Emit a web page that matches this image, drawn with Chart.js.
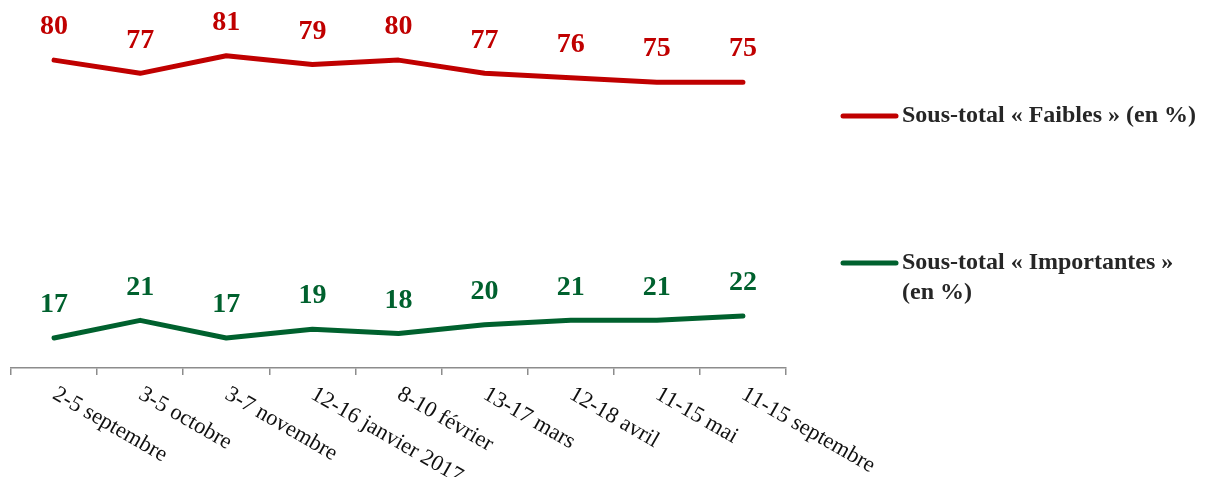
<!DOCTYPE html>
<html>
<head>
<meta charset="utf-8">
<script src="https://cdn.jsdelivr.net/npm/chart.js@4/dist/chart.umd.min.js"></script>
<style>
  html, body { margin: 0; padding: 0; background: #ffffff; }
  #wrap { width: 1208px; height: 477px; position: relative; }
</style>
</head>
<body>
<div id="wrap"><canvas id="c" width="1208" height="477"></canvas></div>
<script>
const categories = ["2-5 septembre", "3-5 octobre", "3-7 novembre", "12-16 janvier 2017", "8-10 février", "13-17 mars", "12-18 avril", "11-15 mai", "11-15 septembre"];
const faibles = [80, 77, 81, 79, 80, 77, 76, 75, 75];
const importantes = [17, 21, 17, 19, 18, 20, 21, 21, 22];
const seriesNames = [["Sous-total « Faibles » (en %)"], ["Sous-total « Importantes »", "(en %)"]];

const RED = "#C00000";
const GREEN = "#00612E";
const FONT = "'Palatino Linotype', 'Book Antiqua', Palatino, 'Liberation Serif', serif";

const labelPlugin = {
  id: "customDraw",
  afterDatasetsDraw(chart) {
    const ctx = chart.ctx;
    ctx.save();
    ctx.font = "bold 28px " + FONT;
    ctx.textAlign = "center";
    ctx.textBaseline = "middle";
    chart.data.datasets.forEach((ds, di) => {
      const meta = chart.getDatasetMeta(di);
      meta.data.forEach((pt, i) => {
        ctx.fillStyle = ds.borderColor;
        ctx.fillText(String(ds.data[i]), pt.x, pt.y - 33);
      });
    });
    ctx.restore();
  },
  afterDraw(chart) {
    const ctx = chart.ctx;
    const xs = chart.scales.x;
    // rotated tick labels
    ctx.save();
    ctx.font = "22.5px " + FONT;
    ctx.fillStyle = "#111111";
    ctx.textAlign = "left";
    ctx.textBaseline = "top";
    categories.forEach((lab, i) => {
      const x = xs.getPixelForValue(i);
      ctx.save();
      ctx.translate(x + 6, chart.chartArea.bottom + 15);
      ctx.rotate(30 * Math.PI / 180);
      ctx.fillText(lab, 0, 0);
      ctx.restore();
    });
    ctx.restore();
    // legend
    ctx.save();
    const legendY = [116, 263];
    const colors = [RED, GREEN];
    ctx.font = "bold 24px " + FONT;
    ctx.textAlign = "left";
    ctx.textBaseline = "middle";
    seriesNames.forEach((lines, k) => {
      ctx.strokeStyle = colors[k];
      ctx.lineWidth = 5;
      ctx.lineCap = "round";
      ctx.beginPath();
      ctx.moveTo(843, legendY[k]);
      ctx.lineTo(896, legendY[k]);
      ctx.stroke();
      ctx.fillStyle = "#262626";
      lines.forEach((t, j) => ctx.fillText(t, 902, legendY[k] + j * 30));
    });
    ctx.restore();
  }
};

new Chart(document.getElementById("c"), {
  type: "line",
  data: {
    labels: categories,
    datasets: [
      { label: seriesNames[0].join(" "), data: faibles, borderColor: RED, backgroundColor: RED, borderWidth: 5, pointRadius: 0, tension: 0, borderCapStyle: "round", borderJoinStyle: "round" },
      { label: seriesNames[1].join(" "), data: importantes, borderColor: GREEN, backgroundColor: GREEN, borderWidth: 5, pointRadius: 0, tension: 0, borderCapStyle: "round", borderJoinStyle: "round" }
    ]
  },
  options: {
    responsive: false,
    animation: false,
    layout: { padding: { left: 11, right: 422, top: 16, bottom: 0 } },
    plugins: { legend: { display: false }, tooltip: { enabled: false } },
    scales: {
      x: {
        offset: true,
        grid: { offset: true, drawOnChartArea: false, drawTicks: true, tickLength: 7, color: "#8c8c8c", lineWidth: 1.5 },
        border: { display: true, color: "#8c8c8c", width: 1.5 },
        ticks: { display: false },
        afterFit(scale) { scale.height = 109; }
      },
      y: { display: false, min: 10.2, max: 90 }
    }
  },
  plugins: [labelPlugin]
});
</script>
</body>
</html>
